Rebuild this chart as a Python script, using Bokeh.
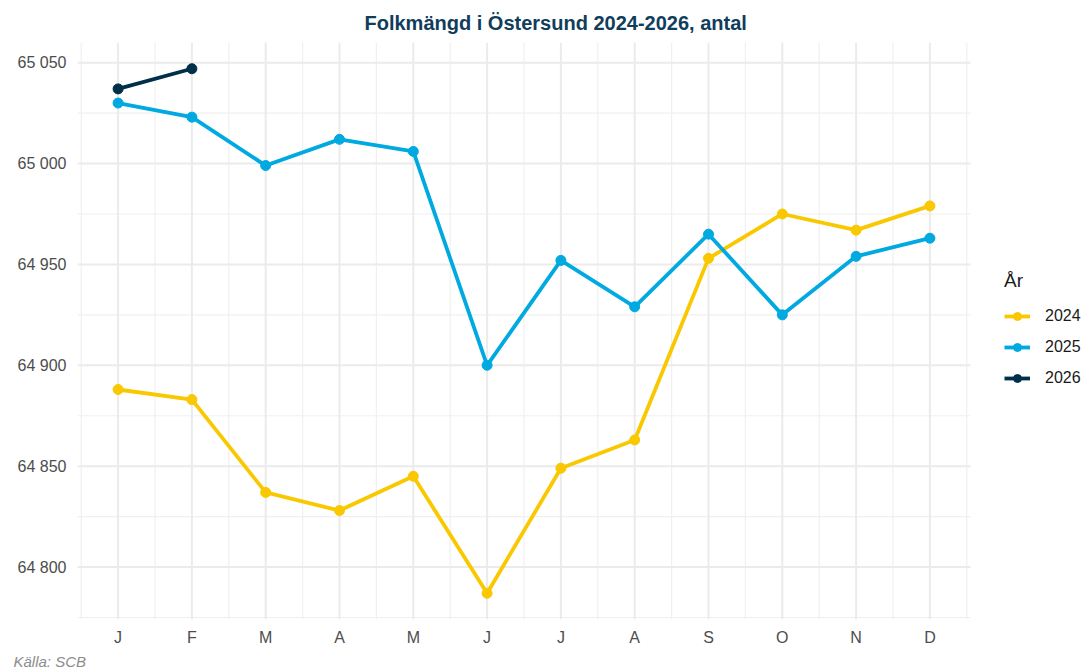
from bokeh.plotting import figure
from bokeh.models import (Range1d, FixedTicker, Legend, LegendItem, Title)
from bokeh.embed import file_html
from bokeh.resources import INLINE

months = ["J", "F", "M", "A", "M", "J", "J", "A", "S", "O", "N", "D"]
month_num = list(range(1, 13))

years = ["2024", "2025", "2026"]
v2024 = [64888, 64883, 64837, 64828, 64845, 64787, 64849, 64863, 64953, 64975, 64967, 64979]
v2025 = [65030, 65023, 64999, 65012, 65006, 64900, 64952, 64929, 64965, 64925, 64954, 64963]
v2026 = [65037, 65047]

colors = ["#F9C800", "#00A9E0", "#002F4A"]
series = [v2024, v2025, v2026]

y_ticks = [64800, 64850, 64900, 64950, 65000, 65050]
y_minor = [64775, 64825, 64875, 64925, 64975, 65025]
x_minor = [m - 0.5 for m in month_num] + [12.5]

FONT = "Liberation Sans"

all_vals = v2024 + v2025 + v2026
lo, hi = min(all_vals), max(all_vals)
pad = 0.05 * (hi - lo)
y0, y1 = lo - pad, hi + pad
x0, x1 = 0.45, 12.55

# panel occupies 893 px of a 1009 px wide frame; the rest holds the legend
W, FRAME_LEFT, PANEL_W = 1086, 77, 893
x_end = x0 + (x1 - x0) * (W - FRAME_LEFT) / PANEL_W

p = figure(width=W, height=672, output_backend="svg", toolbar_location=None,
           x_range=Range1d(x0, x_end), y_range=Range1d(y0, y1),
           min_border_left=FRAME_LEFT, min_border_right=0, min_border_top=42, min_border_bottom=53)
p.outline_line_color = None
p.background_fill_color = "white"
p.border_fill_color = "white"
p.grid.visible = False

# axes
p.xaxis.ticker = FixedTicker(ticks=month_num)
p.xaxis.major_label_overrides = {m: lab for m, lab in zip(month_num, months)}
p.yaxis.ticker = FixedTicker(ticks=y_ticks)
p.yaxis.major_label_overrides = {t: f"{t:,}".replace(",", " ") for t in y_ticks}
for ax in (p.xaxis, p.yaxis):
    ax.axis_line_color = None
    ax.major_tick_line_color = None
    ax.minor_tick_line_color = None
    ax.major_tick_out = 0
    ax.major_tick_in = 0
    ax.minor_tick_out = 0
    ax.minor_tick_in = 0
    ax.major_label_text_font = FONT
    ax.major_label_text_font_size = "16px"
    ax.major_label_text_color = "#4D4D4D"
p.yaxis.major_label_standoff = 11
p.xaxis.major_label_standoff = 9

# panel grid (limited to the plotting panel)
p.segment(x0=x_minor, x1=x_minor, y0=[y0] * len(x_minor), y1=[y1] * len(x_minor),
          line_color="#F0F0F0", line_width=1.2, level="underlay")
p.segment(x0=[x0] * len(y_minor), x1=[x1] * len(y_minor), y0=y_minor, y1=y_minor,
          line_color="#F0F0F0", line_width=1.2, level="underlay")
p.segment(x0=month_num, x1=month_num, y0=[y0] * 12, y1=[y1] * 12,
          line_color="#EBEBEB", line_width=2, level="underlay")
p.segment(x0=[x0] * len(y_ticks), x1=[x1] * len(y_ticks), y0=y_ticks, y1=y_ticks,
          line_color="#EBEBEB", line_width=2, level="underlay")

items = []
for name, vals, col in zip(years, series, colors):
    xs = month_num[:len(vals)]
    r1 = p.line(xs, vals, line_color=col, line_width=3.8)
    r2 = p.scatter(xs, vals, size=10, fill_color=col, line_color=col)
    items.append(LegendItem(label=name, renderers=[r1, r2]))

legend = Legend(items=items, location=(927, 231), title="År",
                title_text_font=FONT, title_text_font_size="19px", title_text_color="#1A1A1A",
                title_text_font_style="normal", title_standoff=14,
                label_text_font=FONT, label_text_font_size="16px", label_text_color="#1A1A1A",
                glyph_width=26, glyph_height=20, label_height=20, label_standoff=15,
                spacing=11, padding=0, margin=0,
                border_line_color=None, background_fill_alpha=0)
p.add_layout(legend, "center")

title = Title(text="Folkmängd i Östersund 2024-2026, antal", align="left", offset=287,
              text_font=FONT, text_font_size="20px", text_font_style="bold",
              text_color="#103D5C", standoff=18)
p.add_layout(title, "above")

caption = Title(text="Källa: SCB", align="left", offset=-64,
                text_font=FONT, text_font_size="15px", text_font_style="italic",
                text_color="#8C8C8C", standoff=4)
p.add_layout(caption, "below")

open("out.html", "w").write(file_html(p, INLINE))
